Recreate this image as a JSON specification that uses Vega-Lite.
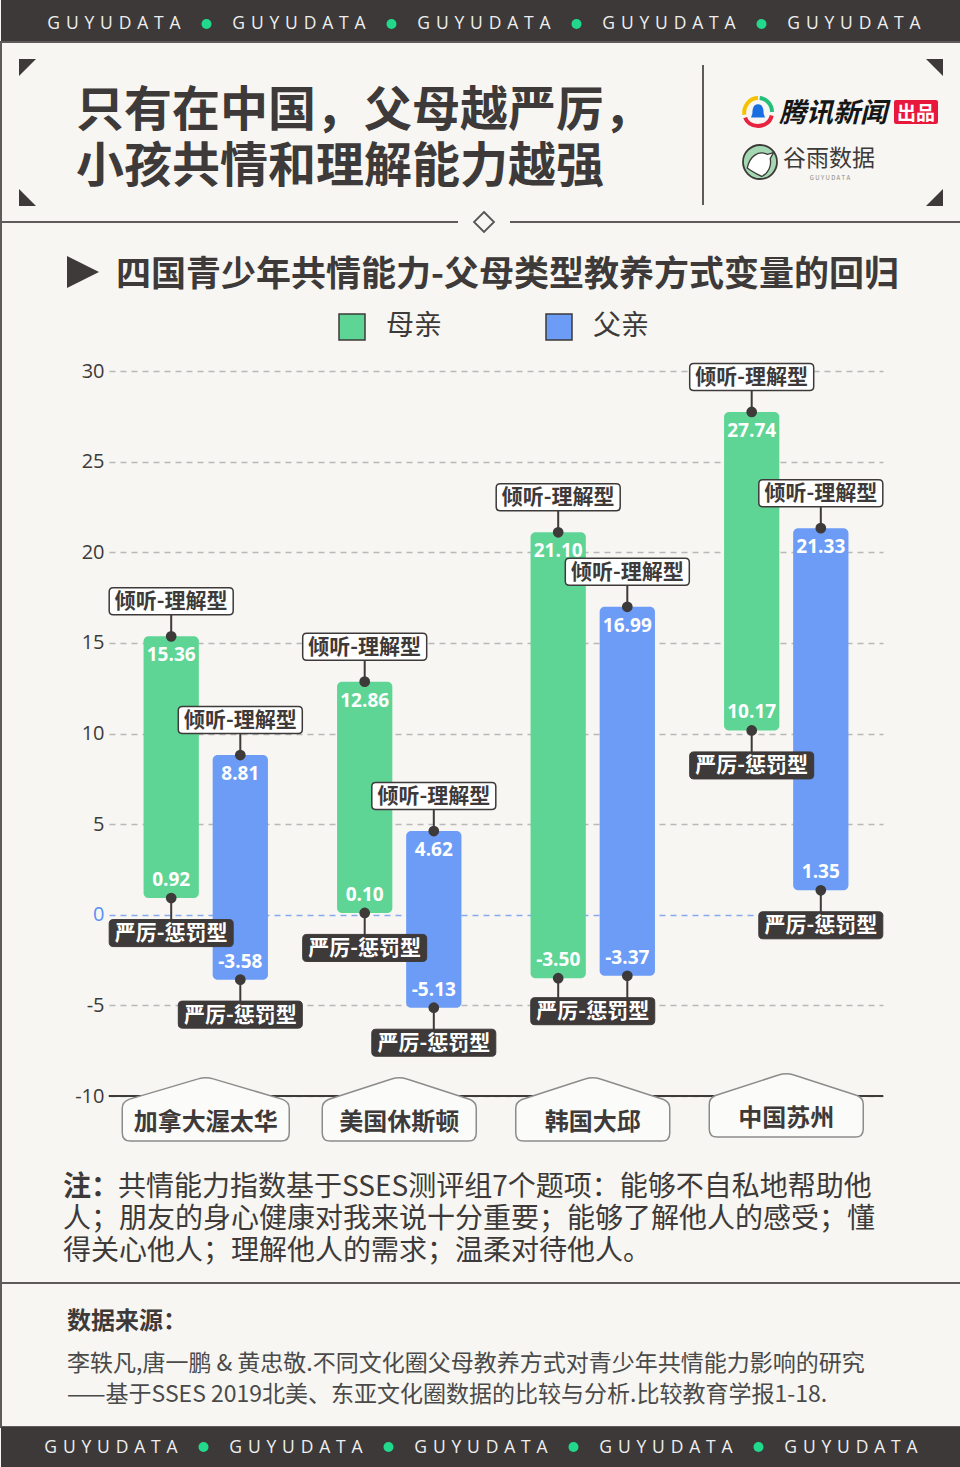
{
"$schema": "https://vega.github.io/schema/vega-lite/v6.json",
"background": "#f7f6f2",
"padding": 0,
"spacing": 0,
"bounds": "flush",
"config": {
  "font": "Noto Sans CJK SC",
  "view": {"stroke": null},
  "locale": {"number": {"decimal": ".", "thousands": ",", "grouping": [3], "currency": ["", ""], "minus": "-"}}
},
"datasets": {
  "rows": [
    {"country": "加拿大渥太华", "parent": "母亲", "listening": 15.36, "strict": 0.92},
    {"country": "加拿大渥太华", "parent": "父亲", "listening": 8.81, "strict": -3.58},
    {"country": "美国休斯顿", "parent": "母亲", "listening": 12.86, "strict": 0.10},
    {"country": "美国休斯顿", "parent": "父亲", "listening": 4.62, "strict": -5.13},
    {"country": "韩国大邱", "parent": "母亲", "listening": 21.10, "strict": -3.50},
    {"country": "韩国大邱", "parent": "父亲", "listening": 16.99, "strict": -3.37},
    {"country": "中国苏州", "parent": "母亲", "listening": 27.74, "strict": 10.17},
    {"country": "中国苏州", "parent": "父亲", "listening": 21.33, "strict": 1.35}
  ],
  "words": [
    {"k": "1", "t": "G\u2004U\u2004Y\u2004U\u2004D\u2004A\u2004T\u2004A"},
    {"k": "3", "t": "G\u2004U\u2004Y\u2004U\u2004D\u2004A\u2004T\u2004A"},
    {"k": "5", "t": "G\u2004U\u2004Y\u2004U\u2004D\u2004A\u2004T\u2004A"},
    {"k": "7", "t": "G\u2004U\u2004Y\u2004U\u2004D\u2004A\u2004T\u2004A"},
    {"k": "9", "t": "G\u2004U\u2004Y\u2004U\u2004D\u2004A\u2004T\u2004A"}
  ],
  "dots": [{"k": "2"}, {"k": "4"}, {"k": "6"}, {"k": "8"}]
},
"vconcat": [
  {
    "width": 960, "height": 42,
    "view": {"fill": "#3c3938", "stroke": null},
    "encoding": {"x": {"field": "k", "type": "ordinal", "scale": {"type": "point", "domain": ["1","2","3","4","5","6","7","8","9"], "range": [113, 853], "padding": 0}, "axis": null}},
    "layer": [
      {"data": {"name": "words"}, "mark": {"type": "text", "font": "Open Sans", "fontSize": 17.5, "color": "#efefef", "dy": 3}, "encoding": {"text": {"field": "t"}}},
      {"data": {"name": "dots"}, "mark": {"type": "point", "shape": "circle", "size": 100, "filled": true, "color": "#22d98b", "opacity": 1, "yOffset": 3}}
    ]
  },
  {
    "width": 960, "height": 180,
    "view": {"stroke": "#5e5b5a", "strokeWidth": 2},
    "resolve": {"scale": {"x": "independent", "y": "independent", "shape": "independent", "color": "independent"}},
    "layer": [
      {
        "data": {"values": [{"h": "L", "v": "T", "c": "TL"}, {"h": "R", "v": "T", "c": "TR"}, {"h": "L", "v": "B", "c": "BL"}, {"h": "R", "v": "B", "c": "BR"}]},
        "mark": {"type": "point", "filled": true, "color": "#3d3a39", "size": 289, "opacity": 1},
        "encoding": {
          "x": {"field": "h", "type": "nominal", "scale": {"type": "point", "domain": ["L", "R"], "range": [26.5, 933.5], "padding": 0}, "axis": null},
          "y": {"field": "v", "type": "nominal", "scale": {"type": "point", "domain": ["T", "B"], "range": [25.5, 155.5], "padding": 0}, "axis": null},
          "shape": {"field": "c", "type": "nominal", "scale": {"domain": ["TL", "TR", "BL", "BR"], "range": ["M-1,-1L1,-1L-1,1Z", "M-1,-1L1,-1L1,1Z", "M-1,-1L-1,1L1,1Z", "M1,-1L1,1L-1,1Z"]}, "legend": null}
        }
      },
      {
        "data": {"values": [{"col": "t", "line": "l1", "text": "只有在中国，父母越严厉，"}, {"col": "t", "line": "l2", "text": "小孩共情和理解能力越强"}]},
        "mark": {"type": "text", "align": "left", "baseline": "middle", "fontSize": 48, "fontWeight": "bold", "color": "#3d3a39"},
        "encoding": {
          "x": {"field": "col", "type": "nominal", "scale": {"type": "point", "domain": ["t"], "range": [75, 75]}, "axis": null},
          "y": {"field": "line", "type": "nominal", "scale": {"type": "point", "domain": ["l1", "l2"], "range": [70, 126], "padding": 0}, "axis": null},
          "text": {"field": "text"}
        }
      },
      {
        "data": {"values": [{"col": "div", "row": "div"}]},
        "mark": {"type": "point", "shape": "M0,-1L0,1", "size": 19600, "filled": false, "color": "#5e5b5a", "strokeWidth": 2, "opacity": 1},
        "encoding": {
          "x": {"field": "col", "type": "nominal", "scale": {"type": "point", "domain": ["div"], "range": [702, 702]}, "axis": null},
          "y": {"field": "row", "type": "nominal", "scale": {"type": "point", "domain": ["div"], "range": [93, 93]}, "axis": null}
        }
      },
      {
        "encoding": {
          "x": {"field": "col", "type": "nominal", "scale": {"type": "point", "domain": ["ring"], "range": [757, 757]}, "axis": null},
          "y": {"field": "row", "type": "nominal", "scale": {"type": "point", "domain": ["r1"], "range": [70, 70]}, "axis": null}
        },
        "layer": [
          {
            "data": {"values": [{"col": "ring", "row": "r1", "arc": "y"}, {"col": "ring", "row": "r1", "arc": "g"}, {"col": "ring", "row": "r1", "arc": "r"}]},
            "mark": {"type": "point", "filled": false, "size": 784, "strokeWidth": 4, "opacity": 1},
            "encoding": {
              "shape": {"field": "arc", "type": "nominal", "scale": {"domain": ["y", "g", "r"], "range": ["M-0.98,0.2C-1.05,-0.5 -0.55,-1 0,-1", "M0.12,-1C0.6,-0.95 1,-0.55 1,0", "M0.98,0.25C0.85,0.85 0.3,1 0,1C-0.45,1 -0.8,0.75 -0.92,0.4"]}, "legend": null},
              "color": {"field": "arc", "type": "nominal", "scale": {"domain": ["y", "g", "r"], "range": ["#f6c200", "#24c07a", "#e8233f"]}, "legend": null}
            }
          },
          {
            "data": {"values": [{"col": "ring", "row": "r1"}]},
            "mark": {"type": "point", "filled": true, "color": "#1a6fe0", "size": 784, "opacity": 1, "shape": "M0,-0.55C0.35,-0.55 0.4,-0.2 0.4,0.1L0.5,0.4L-0.5,0.4L-0.4,0.1C-0.4,-0.2 -0.35,-0.55 0,-0.55Z"}
          }
        ]
      },
      {
        "data": {"values": [{"col": "tx", "row": "r1", "text": "腾讯新闻"}]},
        "mark": {"type": "text", "align": "left", "fontSize": 27, "fontWeight": "bold", "fontStyle": "italic", "color": "#161616"},
        "encoding": {
          "x": {"field": "col", "type": "nominal", "scale": {"type": "point", "domain": ["tx"], "range": [778, 778]}, "axis": null},
          "y": {"field": "row", "type": "nominal", "scale": {"type": "point", "domain": ["r1"], "range": [72, 72]}, "axis": null},
          "text": {"field": "text"}
        }
      },
      {
        "encoding": {
          "x": {"field": "col", "type": "nominal", "scale": {"type": "point", "domain": ["red"], "range": [915, 915]}, "axis": null},
          "y": {"field": "row", "type": "nominal", "scale": {"type": "point", "domain": ["r1"], "range": [70, 70]}, "axis": null}
        },
        "layer": [
          {
            "data": {"values": [{"col": "red", "row": "r1"}]},
            "mark": {"type": "point", "filled": true, "color": "#e8173c", "size": 1936, "opacity": 1, "shape": "M-0.9,-0.545L0.9,-0.545Q1,-0.545 1,-0.445L1,0.445Q1,0.545 0.9,0.545L-0.9,0.545Q-1,0.545 -1,0.445L-1,-0.445Q-1,-0.545 -0.9,-0.545Z"}
          },
          {
            "data": {"values": [{"col": "red", "row": "r1", "text": "出品"}]},
            "mark": {"type": "text", "fontSize": 19, "fontWeight": "bold", "color": "#ffffff", "dy": 1.5},
            "encoding": {"text": {"field": "text"}}
          }
        ]
      },
      {
        "encoding": {
          "x": {"field": "col", "type": "nominal", "scale": {"type": "point", "domain": ["gc"], "range": [759, 759]}, "axis": null},
          "y": {"field": "row", "type": "nominal", "scale": {"type": "point", "domain": ["r2"], "range": [120, 120]}, "axis": null}
        },
        "layer": [
          {
            "data": {"values": [{"col": "gc", "row": "r2"}]},
            "mark": {"type": "point", "shape": "circle", "filled": true, "fill": "#a3d8b2", "stroke": "#3d3a39", "strokeWidth": 1.8, "size": 1156, "opacity": 1}
          },
          {
            "data": {"values": [{"col": "gc", "row": "r2"}]},
            "mark": {"type": "point", "filled": true, "fill": "#ffffff", "stroke": "#3d3a39", "strokeWidth": 1.3, "size": 1156, "opacity": 1, "shape": "M-0.75,0.35C-0.6,-0.35 -0.1,-0.7 0.45,-0.45L0.8,-0.55L0.6,-0.2C0.7,0.25 0.45,0.7 0.1,0.85C-0.2,0.7 -0.5,0.55 -0.75,0.35Z"}
          }
        ]
      },
      {
        "data": {"values": [{"col": "gt", "row": "r2", "text": "谷雨数据"}]},
        "mark": {"type": "text", "align": "left", "fontSize": 23, "color": "#3d3a39"},
        "encoding": {
          "x": {"field": "col", "type": "nominal", "scale": {"type": "point", "domain": ["gt"], "range": [782, 782]}, "axis": null},
          "y": {"field": "row", "type": "nominal", "scale": {"type": "point", "domain": ["r2"], "range": [117, 117]}, "axis": null},
          "text": {"field": "text"}
        }
      },
      {
        "data": {"values": [{"col": "gs", "row": "r3", "text": "G U Y U D A T A"}]},
        "mark": {"type": "text", "fontSize": 6, "color": "#888888"},
        "encoding": {
          "x": {"field": "col", "type": "nominal", "scale": {"type": "point", "domain": ["gs"], "range": [829, 829]}, "axis": null},
          "y": {"field": "row", "type": "nominal", "scale": {"type": "point", "domain": ["r3"], "range": [136, 136]}, "axis": null},
          "text": {"field": "text"}
        }
      }
    ]
  },
  {
    "width": 960, "height": 1061,
    "view": {"stroke": "#5e5b5a", "strokeWidth": 2},
    "resolve": {"scale": {"x": "independent", "y": "independent"}},
    "layer": [
      {
        "data": {"name": "rows"},
        "encoding": {
          "x": {"field": "country", "type": "nominal", "scale": {"domain": ["加拿大渥太华", "美国休斯顿", "韩国大邱", "中国苏州"], "range": [108, 882], "paddingInner": 0, "paddingOuter": 0}, "axis": null}
        },
        "layer": [
          {
            "mark": {"type": "bar", "cornerRadius": 5},
            "encoding": {
              "xOffset": {"field": "parent", "type": "nominal", "scale": {"domain": ["母亲", "父亲"], "paddingInner": 0.2, "paddingOuter": 0.5}},
              "y": {"field": "strict", "type": "quantitative", "scale": {"domain": [-10, 30], "range": [874, 149], "nice": false, "zero": false},
                "axis": {"values": [30, 25, 20, 15, 10, 5, 0, -5, -10], "title": null, "grid": true, "domain": false, "ticks": false, "tickSize": 0, "offset": -108, "labelPadding": 5, "labelFont": "Open Sans", "labelFontSize": 20, "zindex": 0,
                  "labelColor": {"condition": {"test": "datum.value === 0", "value": "#5b8ff4"}, "value": "#3d3a39"},
                  "gridColor": {"condition": {"test": "datum.value === 0", "value": "#86a9f3"}, "value": "#b8b8b8"},
                  "gridDash": [6, 5], "gridWidth": 1.3, "gridOpacity": 1}},
              "y2": {"field": "listening"},
              "color": {"field": "parent", "type": "nominal", "scale": {"domain": ["母亲", "父亲"], "range": ["#5fd595", "#6c9cf6"]},
                "legend": {"title": null, "orient": "none", "legendX": 337, "legendY": 313, "direction": "horizontal", "symbolType": "square", "symbolSize": 676, "symbolStrokeColor": "#3d3a39", "symbolStrokeWidth": 1.5, "symbolOpacity": 1, "labelFontSize": 28, "labelColor": "#3d3a39", "labelOffset": 20, "columnPadding": 100, "padding": 0,
                  "encode": {"symbols": {"update": {"stroke": {"value": "#3d3a39"}, "strokeWidth": {"value": 1.5}}}}}}
            }
          },
          {
            "transform": [{"filter": {"field": "parent", "equal": "母亲"}}],
            "mark": {"type": "tick", "orient": "horizontal", "size": 194, "thickness": 2, "color": "#3d3a39", "opacity": 1},
            "encoding": {"y": {"datum": -10}}
          },
          {
            "mark": {"type": "point", "shape": "M0,0L0,-1", "size": 4900, "filled": false, "color": "#3d3a39", "strokeWidth": 2, "opacity": 1},
            "encoding": {"xOffset": {"field": "parent", "type": "nominal"}, "y": {"field": "listening", "type": "quantitative"}}
          },
          {
            "mark": {"type": "point", "shape": "M0,0L0,1", "size": 4900, "filled": false, "color": "#3d3a39", "strokeWidth": 2, "opacity": 1},
            "encoding": {"xOffset": {"field": "parent", "type": "nominal"}, "y": {"field": "strict", "type": "quantitative"}}
          },
          {
            "mark": {"type": "point", "shape": "M-0.935,-0.218L0.935,-0.218Q1,-0.218 1,-0.153L1,0.153Q1,0.218 0.935,0.218L-0.935,0.218Q-1,0.218 -1,0.153L-1,-0.153Q-1,-0.218 -0.935,-0.218Z", "size": 15376, "filled": true, "fill": "#ffffff", "stroke": "#3d3a39", "strokeWidth": 1.5, "opacity": 1, "yOffset": -35},
            "encoding": {"xOffset": {"field": "parent", "type": "nominal"}, "y": {"field": "listening", "type": "quantitative"}}
          },
          {
            "mark": {"type": "text", "text": "倾听-理解型", "dy": -34, "fontSize": 21, "fontWeight": "bold", "color": "#3d3a39"},
            "encoding": {"xOffset": {"field": "parent", "type": "nominal"}, "y": {"field": "listening", "type": "quantitative"}}
          },
          {
            "transform": [{"filter": {"not": {"field": "country", "equal": "韩国大邱"}}}],
            "mark": {"type": "point", "shape": "M-0.935,-0.218L0.935,-0.218Q1,-0.218 1,-0.153L1,0.153Q1,0.218 0.935,0.218L-0.935,0.218Q-1,0.218 -1,0.153L-1,-0.153Q-1,-0.218 -0.935,-0.218Z", "size": 15376, "filled": true, "fill": "#3d3a39", "stroke": "#3d3a39", "strokeWidth": 1, "opacity": 1, "yOffset": 35},
            "encoding": {"xOffset": {"field": "parent", "type": "nominal"}, "y": {"field": "strict", "type": "quantitative"}}
          },
          {
            "transform": [{"filter": {"not": {"field": "country", "equal": "韩国大邱"}}}],
            "mark": {"type": "text", "text": "严厉-惩罚型", "dy": 36, "fontSize": 21, "fontWeight": "bold", "color": "#ffffff"},
            "encoding": {"xOffset": {"field": "parent", "type": "nominal"}, "y": {"field": "strict", "type": "quantitative"}}
          },
          {
            "transform": [{"filter": {"and": [{"field": "country", "equal": "韩国大邱"}, {"field": "parent", "equal": "母亲"}]}}],
            "mark": {"type": "point", "shape": "M-0.935,-0.218L0.935,-0.218Q1,-0.218 1,-0.153L1,0.153Q1,0.218 0.935,0.218L-0.935,0.218Q-1,0.218 -1,0.153L-1,-0.153Q-1,-0.218 -0.935,-0.218Z", "size": 15376, "filled": true, "fill": "#3d3a39", "stroke": "#3d3a39", "strokeWidth": 1, "opacity": 1, "yOffset": 33},
            "encoding": {"y": {"field": "strict", "type": "quantitative"}}
          },
          {
            "transform": [{"filter": {"and": [{"field": "country", "equal": "韩国大邱"}, {"field": "parent", "equal": "母亲"}]}}],
            "mark": {"type": "text", "text": "严厉-惩罚型", "dy": 34, "fontSize": 21, "fontWeight": "bold", "color": "#ffffff"},
            "encoding": {"y": {"field": "strict", "type": "quantitative"}}
          },
          {
            "mark": {"type": "point", "shape": "circle", "size": 115, "filled": true, "color": "#3d3a39", "opacity": 1},
            "encoding": {"xOffset": {"field": "parent", "type": "nominal"}, "y": {"field": "listening", "type": "quantitative"}}
          },
          {
            "mark": {"type": "point", "shape": "circle", "size": 115, "filled": true, "color": "#3d3a39", "opacity": 1},
            "encoding": {"xOffset": {"field": "parent", "type": "nominal"}, "y": {"field": "strict", "type": "quantitative"}}
          },
          {
            "mark": {"type": "text", "dy": 19, "font": "Open Sans", "fontSize": 19, "fontWeight": "bold", "color": "#ffffff"},
            "encoding": {"xOffset": {"field": "parent", "type": "nominal"}, "y": {"field": "listening", "type": "quantitative"}, "text": {"field": "listening", "type": "quantitative", "format": ".2f"}}
          },
          {
            "mark": {"type": "text", "dy": -18, "font": "Open Sans", "fontSize": 19, "fontWeight": "bold", "color": "#ffffff"},
            "encoding": {"xOffset": {"field": "parent", "type": "nominal"}, "y": {"field": "strict", "type": "quantitative"}, "text": {"field": "strict", "type": "quantitative", "format": ".2f"}}
          },
          {
            "transform": [{"filter": {"and": [{"field": "parent", "equal": "母亲"}, {"field": "country", "equal": "加拿大渥太华"}]}}],
            "mark": {"type": "point", "shape": "M-1,0.44L-1,0.15Q-1,0.07 -0.92,0.04L-0.09,-0.205Q0,-0.235 0.09,-0.205L0.92,0.04Q1,0.07 1,0.15L1,0.44Q1,0.54 0.9,0.54L-0.9,0.54Q-1,0.54 -1,0.44Z", "size": 27889, "filled": true, "fill": "#fbfbf9", "stroke": "#8c8c8c", "strokeWidth": 1.5, "opacity": 1},
            "encoding": {"y": {"datum": -10}}
          },
          {
            "transform": [{"filter": {"and": [{"field": "parent", "equal": "母亲"}, {"field": "country", "oneOf": ["美国休斯顿", "韩国大邱"]}]}}],
            "mark": {"type": "point", "shape": "M-1,0.48L-1,0.16Q-1,0.08 -0.92,0.045L-0.1,-0.22Q0,-0.255 0.1,-0.22L0.92,0.045Q1,0.08 1,0.16L1,0.48Q1,0.585 0.895,0.585L-0.895,0.585Q-1,0.585 -1,0.48Z", "size": 23716, "filled": true, "fill": "#fbfbf9", "stroke": "#8c8c8c", "strokeWidth": 1.5, "opacity": 1},
            "encoding": {"y": {"datum": -10}}
          },
          {
            "transform": [{"filter": {"and": [{"field": "parent", "equal": "母亲"}, {"field": "country", "equal": "中国苏州"}]}}],
            "mark": {"type": "point", "shape": "M-1,0.48L-1,0.16Q-1,0.08 -0.92,0.045L-0.1,-0.22Q0,-0.255 0.1,-0.22L0.92,0.045Q1,0.08 1,0.16L1,0.48Q1,0.585 0.895,0.585L-0.895,0.585Q-1,0.585 -1,0.48Z", "size": 23716, "filled": true, "fill": "#fbfbf9", "stroke": "#8c8c8c", "strokeWidth": 1.5, "opacity": 1, "yOffset": -4},
            "encoding": {"y": {"datum": -10}}
          },
          {
            "transform": [{"filter": {"and": [{"field": "parent", "equal": "母亲"}, {"field": "country", "oneOf": ["加拿大渥太华", "美国休斯顿", "韩国大邱"]}]}}],
            "mark": {"type": "text", "dy": 27, "fontSize": 24, "fontWeight": "bold", "color": "#3d3a39"},
            "encoding": {"y": {"datum": -10}, "text": {"field": "country"}}
          },
          {
            "transform": [{"filter": {"and": [{"field": "parent", "equal": "母亲"}, {"field": "country", "equal": "中国苏州"}]}}],
            "mark": {"type": "text", "dy": 23, "fontSize": 24, "fontWeight": "bold", "color": "#3d3a39"},
            "encoding": {"y": {"datum": -10}, "text": {"field": "country"}}
          }
        ]
      },
      {
        "encoding": {
          "x": {"field": "col", "type": "nominal", "scale": {"type": "point", "domain": ["tri", "sub"], "range": [82, 115], "padding": 0}, "axis": null},
          "y": {"field": "row", "type": "nominal", "scale": {"type": "point", "domain": ["s"], "range": [51, 51]}, "axis": null}
        },
        "layer": [
          {
            "data": {"values": [{"col": "tri", "row": "s"}]},
            "mark": {"type": "point", "shape": "M-1,-1L1,0L-1,1Z", "size": 1024, "filled": true, "color": "#3d3a39", "opacity": 1, "yOffset": -1}
          },
          {
            "data": {"values": [{"col": "sub", "row": "s", "text": "四国青少年共情能力-父母类型教养方式变量的回归"}]},
            "mark": {"type": "text", "align": "left", "fontSize": 35, "fontWeight": "bold", "color": "#3d3a39", "dy": 2},
            "encoding": {"text": {"field": "text"}}
          }
        ]
      },
      {
        "encoding": {
          "x": {"field": "col", "type": "nominal", "scale": {"type": "point", "domain": ["n0", "n1"], "range": [62, 117], "padding": 0}, "axis": null},
          "y": {"field": "row", "type": "nominal", "scale": {"type": "point", "domain": ["a", "b", "c"], "range": [966, 1030], "padding": 0}, "axis": null},
          "text": {"field": "text"}
        },
        "layer": [
          {
            "data": {"values": [{"col": "n0", "row": "a", "text": "注："}]},
            "mark": {"type": "text", "align": "left", "fontSize": 28, "fontWeight": "bold", "color": "#3d3a39"}
          },
          {
            "data": {"values": [
              {"col": "n1", "row": "a", "text": "共情能力指数基于SSES测评组7个题项：能够不自私地帮助他"},
              {"col": "n0", "row": "b", "text": "人；朋友的身心健康对我来说十分重要；能够了解他人的感受；懂"},
              {"col": "n0", "row": "c", "text": "得关心他人；理解他人的需求；温柔对待他人。"}
            ]},
            "mark": {"type": "text", "align": "left", "fontSize": 28, "color": "#3d3a39"}
          }
        ]
      },
      {
        "encoding": {
          "x": {"field": "col", "type": "nominal", "scale": {"type": "point", "domain": ["dia"], "range": [483, 483]}, "axis": null},
          "y": {"field": "row", "type": "nominal", "scale": {"type": "point", "domain": ["top"], "range": [0, 0]}, "axis": null}
        },
        "layer": [
          {
            "data": {"values": [{"col": "dia", "row": "top"}]},
            "mark": {"type": "point", "shape": "M-1,-0.19L1,-0.19L1,0.19L-1,0.19Z", "size": 2704, "filled": true, "color": "#f7f6f2", "strokeWidth": 0, "opacity": 1}
          },
          {
            "data": {"values": [{"col": "dia", "row": "top"}]},
            "mark": {"type": "point", "shape": "M0,-1L1,0L0,1L-1,0Z", "size": 400, "filled": true, "fill": "#f7f6f2", "stroke": "#555555", "strokeWidth": 1.8, "opacity": 1}
          }
        ]
      }
    ]
  },
  {
    "width": 960, "height": 144,
    "view": {"stroke": "#5e5b5a", "strokeWidth": 2},
    "resolve": {"scale": {"y": "independent"}},
    "encoding": {"x": {"field": "col", "type": "nominal", "scale": {"type": "point", "domain": ["s"], "range": [66, 66]}, "axis": null}},
    "layer": [
      {
        "data": {"values": [{"col": "s", "row": "h", "text": "数据来源："}]},
        "mark": {"type": "text", "align": "left", "fontSize": 24, "fontWeight": "bold", "color": "#3d3a39"},
        "encoding": {"y": {"field": "row", "type": "nominal", "scale": {"type": "point", "domain": ["h"], "range": [39, 39]}, "axis": null}, "text": {"field": "text"}}
      },
      {
        "data": {"values": [
          {"col": "s", "row": "l1", "text": "李轶凡,唐一鹏 & 黄忠敬.不同文化圈父母教养方式对青少年共情能力影响的研究"},
          {"col": "s", "row": "l2", "text": "——基于SSES 2019北美、东亚文化圈数据的比较与分析.比较教育学报1-18."}
        ]},
        "mark": {"type": "text", "align": "left", "fontSize": 23, "color": "#4a4a4a"},
        "encoding": {"y": {"field": "row", "type": "nominal", "scale": {"type": "point", "domain": ["l1", "l2"], "range": [81, 112], "padding": 0}, "axis": null}, "text": {"field": "text"}}
      }
    ]
  },
  {
    "width": 960, "height": 40,
    "view": {"fill": "#3c3938", "stroke": null},
    "encoding": {"x": {"field": "k", "type": "ordinal", "scale": {"type": "point", "domain": ["1","2","3","4","5","6","7","8","9"], "range": [110, 850], "padding": 0}, "axis": null}},
    "layer": [
      {"data": {"name": "words"}, "mark": {"type": "text", "font": "Open Sans", "fontSize": 17.5, "color": "#efefef", "dy": 1}, "encoding": {"text": {"field": "t"}}},
      {"data": {"name": "dots"}, "mark": {"type": "point", "shape": "circle", "size": 100, "filled": true, "color": "#22d98b", "opacity": 1, "yOffset": 0}}
    ]
  }
]
}
